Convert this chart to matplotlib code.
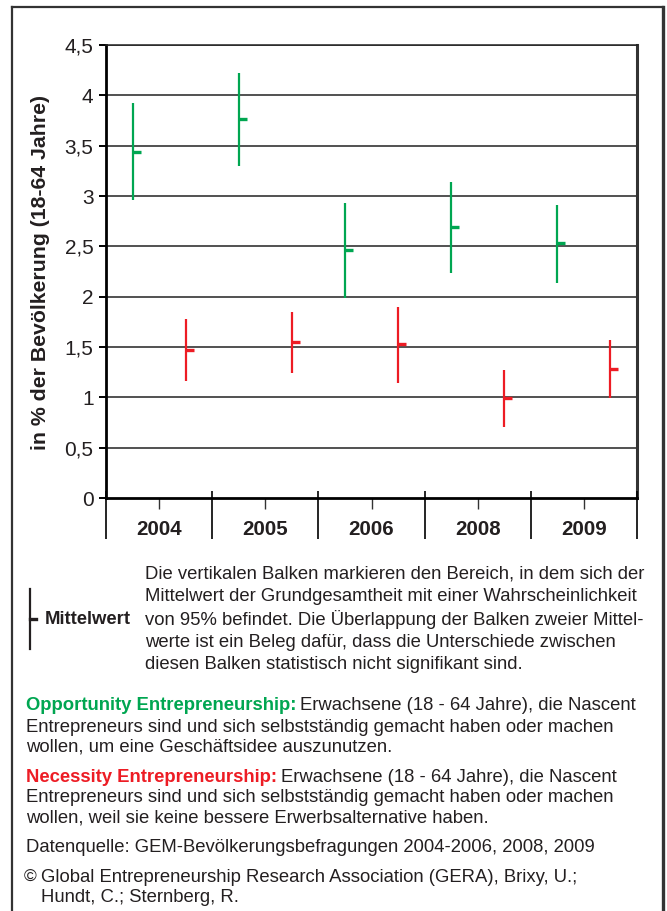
import matplotlib
matplotlib.use('Agg')
import matplotlib.pyplot as plt
from matplotlib.lines import Line2D

plt.rcParams['font.family'] = ['Liberation Sans', 'DejaVu Sans']

# Daten
jahre = ['2004', '2005', '2006', '2008', '2009']
opp_mittel = [3.44, 3.76, 2.46, 2.69, 2.53]
opp_unten = [2.96, 3.30, 1.99, 2.24, 2.14]
opp_oben = [3.92, 4.22, 2.93, 3.14, 2.91]
nec_mittel = [1.47, 1.55, 1.53, 0.99, 1.28]
nec_unten = [1.16, 1.24, 1.14, 0.71, 0.99]
nec_oben = [1.78, 1.85, 1.90, 1.27, 1.57]
y_ticks = [0, 0.5, 1, 1.5, 2, 2.5, 3, 3.5, 4, 4.5]

GRUEN = '#00a651'
ROT = '#ed1c24'
SCHWARZ = '#231f20'

W, H = 667, 911
fig = plt.figure(figsize=(W / 100, H / 100), dpi=100)


def fx(px):
    return px / W


def fy(py):
    return 1 - py / H


ax = fig.add_axes([fx(106), fy(498), fx(637) - fx(106), fy(45) - fy(498)])

n = len(jahre)
pos = list(range(n))
x_opp = [p - 0.25 for p in pos]
x_nec = [p + 0.25 for p in pos]

# Gitterlinien
for v in y_ticks[1:]:
    ax.axhline(v, color='#222222', lw=1.1, zorder=1)

# Konfidenzbalken + Mittelwert
ax.vlines(x_opp, opp_unten, opp_oben, color=GRUEN, lw=1.6, zorder=3)
ax.hlines(opp_mittel, x_opp, [x + 0.075 for x in x_opp], color=GRUEN, lw=2.4, zorder=3)
ax.vlines(x_nec, nec_unten, nec_oben, color=ROT, lw=1.6, zorder=3)
ax.hlines(nec_mittel, x_nec, [x + 0.075 for x in x_nec], color=ROT, lw=2.4, zorder=3)

ax.set_xlim(-0.5, n - 0.5)
ax.set_ylim(0, 4.5)
ax.set_yticks(y_ticks)
ax.set_yticklabels([('%g' % v).replace('.', ',') for v in y_ticks], fontsize=15, color=SCHWARZ)
ax.tick_params(axis='y', direction='out', length=5, width=1.4, pad=4, color='black')

ax.set_xticks(pos)
ax.set_xticklabels(jahre, fontsize=14.8, fontweight='bold', color=SCHWARZ)
ax.tick_params(axis='x', direction='out', length=8, width=1.0, pad=7.5, color='#333333')

# Kategorietrenner unter der Achse
trans = ax.get_xaxis_transform()
ax.vlines([p - 0.5 for p in pos] + [n - 0.5], -0.091, 0.016, transform=trans,
          color='black', lw=1.2, clip_on=False, zorder=5)

for s in ['left', 'bottom']:
    ax.spines[s].set_linewidth(2)
    ax.spines[s].set_color('black')
ax.spines['right'].set_linewidth(2.2)
ax.spines['right'].set_color('#333333')
ax.spines['top'].set_linewidth(1.1)
ax.spines['top'].set_color('#222222')

ax.set_ylabel('in % der Bevölkerung (18-64 Jahre)', fontsize=15.3, fontweight='bold',
              color=SCHWARZ, va='center')
ax.yaxis.set_label_coords(fx(41), fy(273), transform=fig.transFigure)

# Rahmen
rahmen = dict(color='#333333', transform=fig.transFigure)
fig.add_artist(Line2D([fx(12), fx(12)], [0, fy(7)], lw=1.6, **rahmen))
fig.add_artist(Line2D([fx(12), fx(663)], [fy(7), fy(7)], lw=1.6, **rahmen))
fig.add_artist(Line2D([fx(663), fx(663)], [0, fy(7)], lw=2.4, **rahmen))

# Legende Mittelwert
fig.add_artist(Line2D([fx(30), fx(30)], [fy(589), fy(649)], color=SCHWARZ, lw=1.6,
                      transform=fig.transFigure))
fig.add_artist(Line2D([fx(30), fx(36)], [fy(619), fy(619)], color=SCHWARZ, lw=2.4,
                      transform=fig.transFigure))
fig.text(fx(45), fy(619), 'Mittelwert', fontsize=13.3, fontweight='bold',
         color=SCHWARZ, va='center')

TXT = 13.3
erkl = ['Die vertikalen Balken markieren den Bereich, in dem sich der',
        'Mittelwert der Grundgesamtheit mit einer Wahrscheinlichkeit',
        'von 95% befindet. Die Überlappung der Balken zweier Mittel-',
        'werte ist ein Beleg dafür, dass die Unterschiede zwischen',
        'diesen Balken statistisch nicht signifikant sind.']
for i, zeile in enumerate(erkl):
    fig.text(fx(145), fy(574 + i * 22.7), zeile, fontsize=TXT, color=SCHWARZ, va='center')

renderer = fig.canvas.get_renderer()


def zeile_mit_kopf(y, kopf, farbe, rest):
    t = fig.text(fx(26), fy(y), kopf, fontsize=TXT, fontweight='bold', color=farbe, va='center')
    bb = t.get_window_extent(renderer=renderer)
    fig.text(bb.x1 / W + fx(4), fy(y), rest, fontsize=TXT, color=SCHWARZ, va='center')


zeile_mit_kopf(706, 'Opportunity Entrepreneurship:', GRUEN, 'Erwachsene (18 - 64 Jahre), die Nascent')
fig.text(fx(26), fy(727), 'Entrepreneurs sind und sich selbstständig gemacht haben oder machen',
         fontsize=TXT, color=SCHWARZ, va='center')
fig.text(fx(26), fy(747), 'wollen, um eine Geschäftsidee auszunutzen.',
         fontsize=TXT, color=SCHWARZ, va='center')

zeile_mit_kopf(777, 'Necessity Entrepreneurship:', ROT, 'Erwachsene (18 - 64 Jahre), die Nascent')
fig.text(fx(26), fy(798), 'Entrepreneurs sind und sich selbstständig gemacht haben oder machen',
         fontsize=TXT, color=SCHWARZ, va='center')
fig.text(fx(26), fy(818), 'wollen, weil sie keine bessere Erwerbsalternative haben.',
         fontsize=TXT, color=SCHWARZ, va='center')

fig.text(fx(26), fy(847), 'Datenquelle: GEM-Bevölkerungsbefragungen 2004-2006, 2008, 2009',
         fontsize=TXT, color=SCHWARZ, va='center')
fig.text(fx(24), fy(877), '©', fontsize=12.5, color=SCHWARZ, va='center')
fig.text(fx(41), fy(877), 'Global Entrepreneurship Research Association (GERA), Brixy, U.;',
         fontsize=TXT, color=SCHWARZ, va='center')
fig.text(fx(41), fy(898), 'Hundt, C.; Sternberg, R.',
         fontsize=TXT, color=SCHWARZ, va='center')

fig.savefig('out.png', dpi=100)
